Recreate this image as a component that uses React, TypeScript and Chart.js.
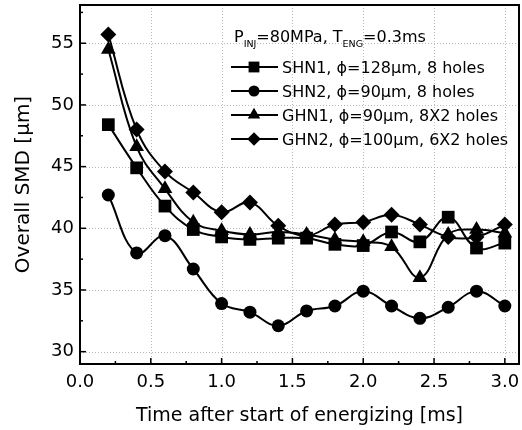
import React, { useEffect, useRef } from "react";
import { Chart, registerables } from "chart.js";

Chart.register(...registerables);

const times = [0.2, 0.4, 0.6, 0.8, 1.0, 1.2, 1.4, 1.6, 1.8, 2.0, 2.2, 2.4, 2.6, 2.8, 3.0];
const shn1 = [48.4, 44.9, 41.8, 39.9, 39.3, 39.1, 39.2, 39.2, 38.7, 38.6, 39.7, 38.9, 40.9, 38.4, 38.8];
const shn2 = [42.7, 38.0, 39.4, 36.7, 33.9, 33.2, 32.1, 33.3, 33.7, 34.9, 33.7, 32.7, 33.6, 34.9, 33.7];
const ghn1 = [54.5, 46.6, 43.2, 40.5, 39.8, 39.5, 39.7, 39.5, 39.1, 38.9, 38.5, 36.0, 39.5, 39.9, 39.6];
const ghn2 = [55.7, 48.0, 44.6, 42.9, 41.3, 42.1, 40.2, 39.4, 40.3, 40.5, 41.1, 40.3, 39.3, 39.3, 40.3];

const seriesNames = [
  "SHN1, \u03d5=128\u03bcm, 8 holes",
  "SHN2, \u03d5=90\u03bcm, 8 holes",
  "GHN1, \u03d5=90\u03bcm, 8X2 holes",
  "GHN2, \u03d5=100\u03bcm, 6X2 holes",
];
const seriesData = [shn1, shn2, ghn1, ghn2];
const seriesShapes = ["rect", "circle", "triangle", "rectRot"];
const seriesRadius = [9, 6.5, 8.5, 8];

const xMajor = [0, 0.5, 1.0, 1.5, 2.0, 2.5, 3.0];
const xMinor = [0.25, 0.75, 1.25, 1.75, 2.25, 2.75];
const yMajor = [30, 35, 40, 45, 50, 55];
const yMinor = [32.5, 37.5, 42.5, 47.5, 52.5, 57.5];

const FONT = "'DejaVu Sans', Verdana, sans-serif";

function drawMarker(ctx: CanvasRenderingContext2D, shape: string, r: number, x: number, y: number) {
  ctx.beginPath();
  if (shape === "rect") {
    const s = Math.SQRT1_2 * r;
    ctx.rect(x - s, y - s, 2 * s, 2 * s);
  } else if (shape === "circle") {
    ctx.arc(x, y, r, 0, Math.PI * 2);
  } else if (shape === "triangle") {
    const half = (r * Math.sqrt(3)) / 2;
    ctx.moveTo(x, y - r);
    ctx.lineTo(x + half, y + r / 2);
    ctx.lineTo(x - half, y + r / 2);
    ctx.closePath();
  } else {
    ctx.moveTo(x, y - r);
    ctx.lineTo(x + r, y);
    ctx.lineTo(x, y + r);
    ctx.lineTo(x - r, y);
    ctx.closePath();
  }
  ctx.fill();
}

const framePlugin = {
  id: "frame",
  beforeDatasetsDraw(chart: any) {
    const { ctx, chartArea: a, scales } = chart;
    const xs = scales.x, ys = scales.y;
    ctx.save();
    ctx.strokeStyle = "#b8b8b8";
    ctx.lineWidth = 1;
    ctx.setLineDash([1, 2]);
    for (const v of xMajor) {
      const px = Math.round(xs.getPixelForValue(v)) + 0.5;
      ctx.beginPath(); ctx.moveTo(px, a.top); ctx.lineTo(px, a.bottom); ctx.stroke();
    }
    for (const v of yMajor) {
      const py = Math.round(ys.getPixelForValue(v)) + 0.5;
      ctx.beginPath(); ctx.moveTo(a.left, py); ctx.lineTo(a.right, py); ctx.stroke();
    }
    ctx.restore();
  },
  afterDraw(chart: any) {
    const { ctx, chartArea: a, scales } = chart;
    const xs = scales.x, ys = scales.y;
    ctx.save();
    ctx.strokeStyle = "#000";
    ctx.lineWidth = 2;
    ctx.setLineDash([]);
    ctx.strokeRect(a.left, a.top, a.right - a.left, a.bottom - a.top);
    ctx.lineWidth = 1.5;
    for (const v of xMajor) {
      const px = xs.getPixelForValue(v);
      ctx.beginPath(); ctx.moveTo(px, a.bottom); ctx.lineTo(px, a.bottom - 6); ctx.stroke();
    }
    for (const v of xMinor) {
      const px = xs.getPixelForValue(v);
      ctx.beginPath(); ctx.moveTo(px, a.bottom); ctx.lineTo(px, a.bottom - 3); ctx.stroke();
    }
    for (const v of yMajor) {
      const py = ys.getPixelForValue(v);
      ctx.beginPath(); ctx.moveTo(a.left, py); ctx.lineTo(a.left + 6, py); ctx.stroke();
    }
    for (const v of yMinor) {
      const py = ys.getPixelForValue(v);
      ctx.beginPath(); ctx.moveTo(a.left, py); ctx.lineTo(a.left + 3, py); ctx.stroke();
    }

    // legend
    ctx.fillStyle = "#000";
    ctx.textBaseline = "alphabetic";
    const big = "16px " + FONT;
    const small = "9.5px " + FONT;
    let x = 234;
    const ty = 42;
    const parts: [string, boolean][] = [["P", false], ["INJ", true], ["=80MPa, T", false], ["ENG", true], ["=0.3ms", false]];
    for (const [t, sub] of parts) {
      ctx.font = sub ? small : big;
      ctx.fillText(t, x, sub ? ty + 5 : ty);
      x += ctx.measureText(t).width;
    }
    const rows = [67, 91, 115, 139];
    for (let i = 0; i < 4; i++) {
      const y = rows[i];
      ctx.lineWidth = 2;
      ctx.strokeStyle = "#000";
      ctx.beginPath(); ctx.moveTo(231, y); ctx.lineTo(278, y); ctx.stroke();
      drawMarker(ctx, seriesShapes[i], seriesRadius[i] * 0.85, 254, y);
      ctx.font = big;
      ctx.fillText(seriesNames[i], 282, y + 6);
    }
    ctx.restore();
  },
};

export default function App() {
  const ref = useRef<HTMLCanvasElement | null>(null);
  useEffect(() => {
    if (!ref.current) return;
    const chart = new Chart(ref.current, {
      type: "line",
      data: {
        datasets: seriesData.map((d, i) => ({
          label: seriesNames[i],
          data: times.map((t, j) => ({ x: t, y: d[j] })),
          borderColor: "#000",
          backgroundColor: "#000",
          borderWidth: 2,
          pointStyle: seriesShapes[i] as any,
          pointRadius: seriesRadius[i],
          pointBackgroundColor: "#000",
          pointBorderColor: "#000",
          pointBorderWidth: 0,
          tension: 0.4,
          fill: false,
        })),
      },
      options: {
        animation: false,
        responsive: false,
        events: [],
        layout: { autoPadding: false, padding: { top: 5, right: 3, left: 0, bottom: 3 } },
        plugins: { legend: { display: false }, tooltip: { enabled: false } },
        scales: {
          x: {
            type: "linear",
            min: 0,
            max: 3.1,
            grid: { display: false, drawTicks: false },
            border: { display: false },
            afterBuildTicks: (s: any) => { s.ticks = xMajor.map((v) => ({ value: v })); },
            afterFit: (s: any) => { s.height = 63; s.paddingLeft = 0; s.paddingRight = 0; },
            ticks: {
              color: "#000",
              font: { family: FONT, size: 18 },
              padding: 8,
              maxRotation: 0,
              callback: (v: any) => Number(v).toFixed(1),
            },
            title: {
              display: true,
              text: "Time after start of energizing [ms]",
              color: "#000",
              font: { family: FONT, size: 19 },
              padding: { top: 1, bottom: 0 },
            },
          },
          y: {
            type: "linear",
            min: 29,
            max: 58.1,
            grid: { display: false, drawTicks: false },
            border: { display: false },
            afterBuildTicks: (s: any) => { s.ticks = yMajor.map((v) => ({ value: v })); },
            afterFit: (s: any) => { s.width = 80; s.paddingTop = 0; s.paddingBottom = 0; },
            ticks: {
              color: "#000",
              font: { family: FONT, size: 18 },
              padding: 6,
              callback: (v: any) => String(v),
            },
            title: {
              display: true,
              text: "Overall SMD [\u03bcm]",
              color: "#000",
              font: { family: FONT, size: 20 },
              padding: { top: 12, bottom: 4 },
            },
          },
        },
      },
      plugins: [framePlugin],
    } as any);
    return () => chart.destroy();
  }, []);
  return (
    <div style={{ position: "fixed", left: 0, top: 0, width: 522, height: 430, background: "#fff" }}>
      <canvas ref={ref} width={522} height={430} style={{ width: 522, height: 430, display: "block" }} />
    </div>
  );
}
